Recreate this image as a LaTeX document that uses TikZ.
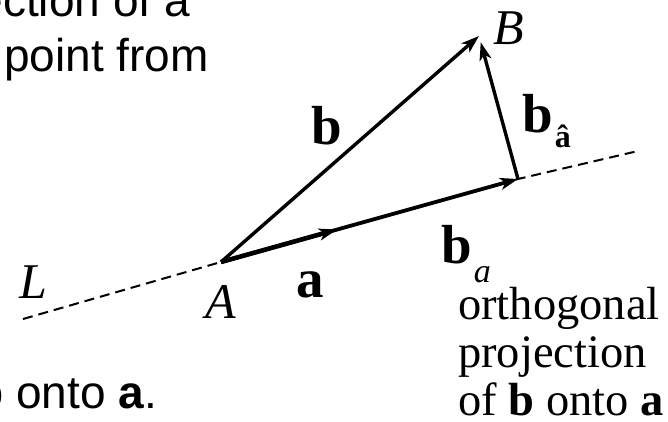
\documentclass[tikz,border=0pt]{standalone}
\usepackage{fontspec}
\setmainfont{Liberation Serif}
\setsansfont{Liberation Sans}
\usetikzlibrary{arrows.meta,calc}

\begin{document}
\begin{tikzpicture}[x=1pt, y=-1pt,
    vec/.style={-{Stealth[length=18pt, width=12pt, inset=5pt]}, line width=3.4pt},
    bold/.style={inner sep=0pt, anchor=base west, font=\fontsize{55}{60}\selectfont\bfseries},
    pnt/.style={inner sep=0pt, anchor=base west, font=\fontsize{50}{55}\selectfont\itshape},
    txt/.style={inner sep=0pt, font=\fontsize{46}{55}\selectfont\sffamily},
    ln/.style={dash pattern=on 10pt off 6pt, line width=2pt}
  ]
    \useasboundingbox (0,0) rectangle (668,422);
    \clip (0,0) rectangle (668,422);

    % Points on the line L
    \coordinate (A)  at (221,262);
    \coordinate (B)  at (479,36);
    \coordinate (P)  at (518,179);
    \coordinate (Lw) at (23,319);
    \coordinate (Le) at (638,151);
    \coordinate (Ah) at ($(A)!0.39!(P)$);

    % Line L
    \draw[ln] (Lw) -- (A) -- (P) -- (Le);

    % Vectors
    \draw[vec] (A) -- (B);
    \draw[vec, line width=3.8pt] (A) -- (P);
    \draw[vec, line width=4.6pt] (A) -- (Ah);
    \draw[vec, shorten >=6.5pt] (P) -- (B);

    % Labels
    \node[pnt] (lblB) at (493,45)  {B};
    \node[pnt] (lblA) at (205,318) {A};
    \node[pnt] (lblL) at (19,298)  {L};
    \node[bold] (lblb) at (311,145) {b};
    \node[bold] (lbla) at (296,297) {a};
    \node[bold] (lblperp) at (522,132)
      {b\hspace{2pt}\raisebox{-15pt}{\fontsize{32}{34}\selectfont â}};
    \node[bold] (lblpar) at (441,263)
      {b\hspace{2pt}\raisebox{-19pt}{\fontsize{34}{34}\selectfont\mdseries\itshape a}};

    % Side note
    \node[inner sep=0pt, anchor=north west, align=left, font=\fontsize{46.5}{48}\selectfont]
      (note) at (458,287) {orthogonal\\projection\\of \textbf{b} onto \textbf{a}};

    % Slide text, cut at the edge
    \node[txt, anchor=base east] (top1) at (190,17) {ection of a};
    \node[txt, anchor=base west] (top2) at (4,72)   {point from};
    \node[txt, anchor=base east] (bot)  at (157,408) {\textbf{b} onto \textbf{a}.};

  \end{tikzpicture}
\end{document}
